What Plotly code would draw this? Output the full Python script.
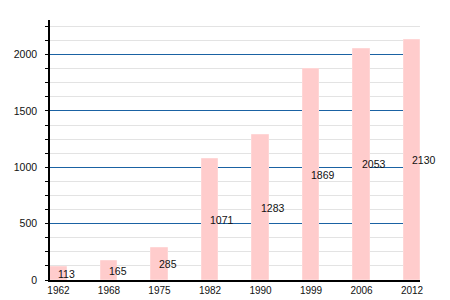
import plotly.graph_objects as go

years = ["1962", "1968", "1975", "1982", "1990", "1999", "2006", "2012"]
population = [113, 165, 285, 1071, 1283, 1869, 2053, 2130]

xpos = list(range(len(years)))

fig = go.Figure()
fig.add_trace(go.Bar(
    x=xpos, y=population, width=0.32,
    marker=dict(color="#ffcccc", line=dict(color="#ffd6d6", width=1)),
    hoverinfo="skip",
))

for i, v in enumerate(population):
    fig.add_annotation(x=xpos[i], y=v / 2, text=str(v), showarrow=False,
                       xanchor="left", yanchor="middle", xshift=-2,
                       font=dict(family="Liberation Sans, Arial, sans-serif", size=10.5, color="#111111"))

fig.update_layout(
    width=450, height=300,
    margin=dict(l=50, r=30, t=20, b=20, autoexpand=False),
    paper_bgcolor="white", plot_bgcolor="white",
    showlegend=False,
    font=dict(family="Liberation Sans, Arial, sans-serif", size=10, color="#111111"),
    bargap=0,
)
fig.update_xaxes(
    range=[-0.168, 7.158],
    tickvals=xpos, ticktext=years,
    showline=True, linecolor="black", linewidth=1.5,
    showgrid=False, zeroline=False, ticks="",
    tickfont=dict(size=10), automargin=False,
)
fig.update_yaxes(
    range=[0, 2307],
    tick0=0, dtick=500,
    showline=True, linecolor="black", linewidth=1.5,
    showgrid=True, gridcolor="#1a62a3", gridwidth=1,
    zeroline=False,
    ticks="outside", ticklen=3, tickcolor="black",
    ticklabelstandoff=6,
    tickfont=dict(size=10.5), automargin=False,
    minor=dict(dtick=125, showgrid=True, gridcolor="#e3e3e3", gridwidth=1,
               ticks="outside", ticklen=3, tickcolor="black"),
)

fig.write_html("out.html")
